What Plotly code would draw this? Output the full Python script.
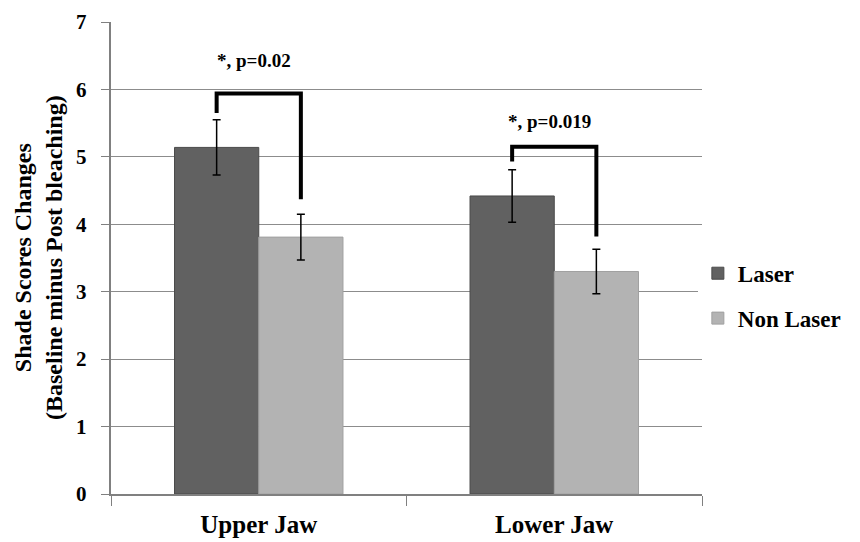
import plotly.graph_objects as go

categories = ["Upper Jaw", "Lower Jaw"]
laser_values = [5.14, 4.42]
laser_err = [0.41, 0.39]
nonlaser_values = [3.81, 3.30]
nonlaser_err = [0.34, 0.33]

# significance brackets: [left bottom, top, right bottom] in data units
bracket_labels = ["*, p=0.02", "*, p=0.019"]
bracket_left_bottom = [5.65, 4.93]
bracket_top = [5.94, 5.15]
bracket_right_bottom = [4.37, 3.82]
label_y = [6.43, 5.52]

y_ticks = [0, 1, 2, 3, 4, 5, 6, 7]
y_title = "Shade Scores Changes<br>(Baseline minus Post bleaching)"

BARGAP = 0.43
FONT = "Liberation Serif"

fig = go.Figure()
fig.add_trace(go.Bar(
    name="Laser", x=categories, y=laser_values, legendgroup="a",
    marker=dict(color="#616161", line=dict(color="#4a4a4a", width=1)),
    error_y=dict(type="data", array=laser_err, color="black", thickness=1.5, width=4),
))
fig.add_trace(go.Bar(
    name="Non Laser", x=categories, y=nonlaser_values, legendgroup="b",
    marker=dict(color="#b3b3b3", line=dict(color="#a0a0a0", width=1)),
    error_y=dict(type="data", array=nonlaser_err, color="black", thickness=1.5, width=4),
))

off = (1 - BARGAP) / 4
for i in range(len(categories)):
    xl, xr = i - off, i + off
    fig.add_shape(type="path",
                  path=f"M {xl},{bracket_left_bottom[i]} L {xl},{bracket_top[i]} L {xr},{bracket_top[i]} L {xr},{bracket_right_bottom[i]}",
                  xref="x", yref="y", line=dict(color="black", width=4))
    fig.add_annotation(x=i - 0.015, y=label_y[i], xref="x", yref="y", text=bracket_labels[i],
                       showarrow=False, font=dict(family=FONT, size=19, color="black", weight="bold"))

# y-axis title as a rotated annotation for precise placement
fig.add_annotation(x=-0.1235, y=0.5, xref="paper", yref="paper", text=y_title,
                   textangle=-90, showarrow=False, xanchor="center", yanchor="middle",
                   font=dict(family=FONT, size=24, color="black", weight="bold"))

fig.update_layout(
    width=860, height=542,
    margin=dict(l=103, r=166, t=14, b=56, autoexpand=False),
    paper_bgcolor="white", plot_bgcolor="white",
    barmode="group", bargap=BARGAP, bargroupgap=0,
    font=dict(family=FONT, color="black"),
    legend=dict(x=0.993, xanchor="left", y=0.42, yanchor="middle",
                font=dict(family=FONT, size=23, color="black", weight="bold"),
                tracegroupgap=12, itemwidth=30),
    xaxis=dict(type="category", showline=True, linecolor="#808080", linewidth=1.5,
               ticks="outside", tickson="boundaries", ticklen=10, tickcolor="#808080",
               tickfont=dict(family=FONT, size=25, color="black", weight="bold"),
               ticklabelstandoff=7,
               showgrid=False, range=[-0.5, 1.5]),
    yaxis=dict(range=[0, 7], showline=True, linecolor="#808080", linewidth=1.5,
               tickmode="array", tickvals=y_ticks,
               ticktext=[f"{v}&nbsp;&nbsp;" for v in y_ticks],
               ticks="outside", ticklen=8, tickcolor="#808080",
               showgrid=True, gridcolor="#8c8c8c", gridwidth=1, zeroline=False,
               tickfont=dict(family=FONT, size=21, color="black", weight="bold")),
)

fig.write_html("out.html")
